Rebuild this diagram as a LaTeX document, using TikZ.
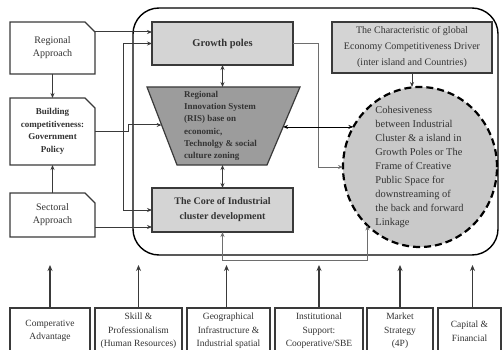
\documentclass[tikz,border=0pt]{standalone}
\usepackage{fontspec}
\setmainfont{Liberation Serif}
\usetikzlibrary{arrows.meta,shapes.misc,shapes.geometric,calc}
\definecolor{dgray}{HTML}{3A3A3A}
\definecolor{txt}{HTML}{333333}
\definecolor{lfill}{HTML}{D4D4D4}
\definecolor{tfill}{HTML}{9C9C9C}
\definecolor{cfill}{HTML}{C9C9C9}
\definecolor{lgline}{HTML}{6E6E6E}
\tikzset{
  sbox/.style={draw=dgray, line width=1.2pt, fill=white, inner sep=0pt, outer sep=0pt, align=center, text=txt},
  lbox/.style={sbox, chamfered rectangle, chamfered rectangle corners=north east,
    chamfered rectangle xsep=5pt, chamfered rectangle ysep=5pt},
  gbox/.style={draw=dgray, line width=1.2pt, fill=lfill, inner sep=0pt, outer sep=0pt, align=center, text=txt},
  conn/.style={draw=dgray, line width=1pt},
  glink/.style={draw=lgline, line width=1pt},
  onearrow/.style={-{Stealth[length=5pt,width=4pt]}},
  twoarrow/.style={{Stealth[length=5pt,width=4pt]}-{Stealth[length=5pt,width=4pt]}},
  uparrow/.style={draw=dgray, line width=1.4pt, -{Stealth[length=6pt,width=5pt]}},
  freg/.style={font=\fontsize{10}{13}\selectfont},
  fbold/.style={font=\fontsize{9}{12.5}\selectfont\bfseries},
  fbot/.style={font=\fontsize{9.5}{13.5}\selectfont},
}
\begin{document}
\begin{tikzpicture}[x=1pt,y=-1pt]
\useasboundingbox (0,0) rectangle (503,350);
\clip (0,0) rectangle (503,350);

% outer frame
\node[draw=black, line width=1.4pt, rounded corners=26pt, minimum width=365pt,
      minimum height=247pt, inner sep=0pt, outer sep=0pt] (frame) at (315.5,131.5) {};

% left boxes
\node[lbox, freg, minimum width=85pt, minimum height=52pt] (reg) at (52.5,48) {Regional\\Approach};
\node[lbox, fbold, minimum width=85pt, minimum height=67pt] (bld) at (52.5,131.5)
  {Building\\competitiveness:\\Government\\Policy};
\node[lbox, freg, minimum width=85pt, minimum height=44pt] (sec) at (52.5,215) {Sectoral\\Approach};

% central boxes
\node[gbox, font=\fontsize{10.5}{13}\selectfont\bfseries, minimum width=141pt, minimum height=43pt] (gp) at (222.5,43.5) {Growth poles};
\node[gbox, font=\fontsize{10}{15}\selectfont\bfseries, minimum width=141pt, minimum height=44pt] (core) at (222.5,210)
  {The Core of Industrial\\cluster development};

% trapezoid (RIS)
\coordinate (tl) at (147,87);
\coordinate (tr) at (300,87);
\coordinate (br) at (267,165);
\coordinate (bl) at (177,165);
\draw[draw=dgray, line width=1.2pt, fill=tfill] (tl) -- (tr) -- (br) -- (bl) -- cycle;
\node[anchor=west, align=left, inner sep=0pt, text=txt, font=\fontsize{9}{12.3}\selectfont\bfseries] (ris) at (184,126)
  {Regional\\Innovation System\\(RIS) base on\\economic,\\Technolgy \& social\\culture zoning};
\coordinate (risL) at ($(tl)!0.487!(bl)$);
\coordinate (risR) at ($(tr)!0.513!(br)$);

% right box
\node[gbox, font=\fontsize{10}{16}\selectfont, minimum width=160pt, minimum height=51pt] (drv) at (412,47.5)
  {The Characteristic of global\\Economy Competitiveness Driver\\(inter island and Countries)};

% dashed circle
\node[ellipse, draw=black, line width=2.2pt, dash pattern=on 7pt off 4pt, fill=cfill,
      minimum width=154pt, minimum height=160pt, inner sep=0pt, outer sep=0pt] (circ) at (420,167) {};
\node[align=left, inner sep=0pt, text=txt, font=\fontsize{10.4}{14.1}\selectfont] (ctext) at (419.5,167)
  {Cohesiveness\\between Industrial\\Cluster \& a island in\\Growth Poles or The\\Frame of Creative\\Public Space for\\downstreaming of\\the back and forward\\Linkage};

% bottom boxes
\node[sbox, fbot, minimum width=80pt, minimum height=46pt] (b1) at (50,331) {Comperative\\Advantage};
\node[sbox, fbot, minimum width=87pt, minimum height=46pt] (b2) at (138.5,331) {Skill \&\\Professionalism\\(Human Resources)};
\node[sbox, fbot, minimum width=83pt, minimum height=46pt] (b3) at (228.5,331) {Geographical\\Infrastructure \&\\Industrial spatial};
\node[sbox, fbot, minimum width=88pt, minimum height=46pt] (b4) at (319,331) {Institutional\\Support:\\Cooperative/SBE};
\node[sbox, fbot, minimum width=66pt, minimum height=46pt] (b5) at (400,331) {Market\\Strategy\\(4P)};
\node[sbox, fbot, minimum width=63pt, minimum height=46pt] (b6) at (469.5,331) {Capital \&\\Financial};

% left connectors
\draw[conn, onearrow] (reg.south) -- (bld.north);
\draw[conn, onearrow] (sec.north) -- (bld.south);
\draw[conn, onearrow] ([yshift=16pt]reg.east) -- ([yshift=16pt]reg.east -| gp.west);
\coordinate (vj) at (123,131.5);
\draw[conn, onearrow] (vj) |- (gp.west);
\draw[conn, onearrow] (vj) |- (core.west);
\draw[conn, onearrow] (bld.east) -- ++(33,0) |- (risL);
\draw[conn, onearrow] ([yshift=-12pt]sec.east) -- ([yshift=-12pt]sec.east -| core.west);

% central connectors
\draw[conn, twoarrow] (gp.south) -- (gp.south |- tl);
\draw[conn, twoarrow] (core.north |- bl) -- (core.north);
\draw[glink, onearrow] (gp.east) -- ++(25,0) |- (circ.west);
\draw[draw=black, line width=0.8pt, twoarrow] (risR |- circ.149) -- (circ.149);
\coordinate (lkrow) at (0,260);
\draw[glink, twoarrow] (core.south) |- (circ.228 |- lkrow) -- (circ.228);
\draw[conn, onearrow] (drv.south) -- (drv.south |- circ.north);

% bottom arrows
\draw[uparrow] (b1.north) -- ++(0,-43);
\draw[uparrow] (b2.north) -- ++(0,-43);
\draw[uparrow] ([xshift=-2pt]b3.north) -- ++(0,-43);
\draw[uparrow] (b4.north) -- ++(0,-43);
\draw[uparrow] (b5.north) -- ++(0,-43);
\draw[uparrow] ([xshift=3pt]b6.north) -- ++(0,-43);
\end{tikzpicture}
\end{document}
